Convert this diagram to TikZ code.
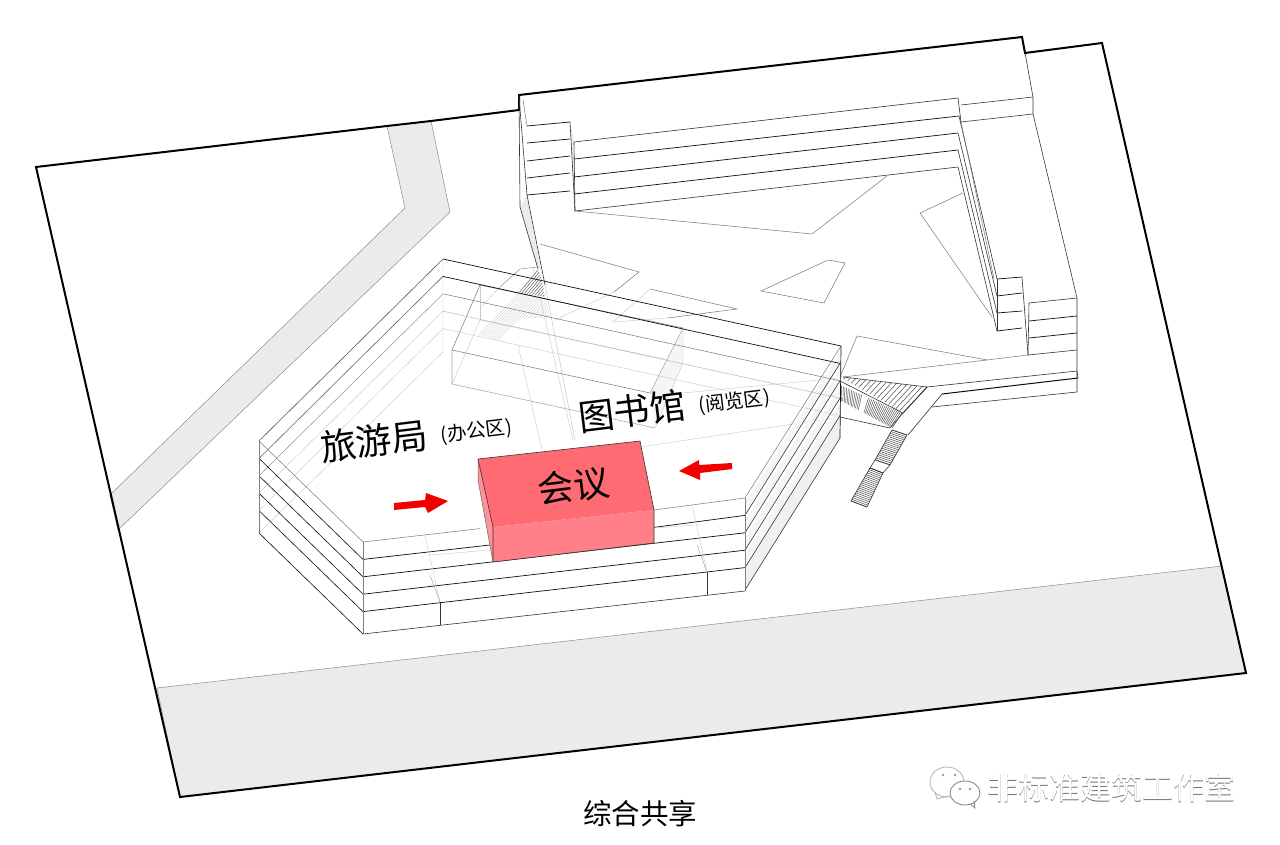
\documentclass[tikz,border=0pt]{standalone}
\usepackage{fontspec}
\setmainfont{Noto Sans CJK SC}
\definecolor{redtop}{HTML}{FF6B72}
\definecolor{redfront}{HTML}{FF8088}
\begin{document}
\begin{tikzpicture}[x=1pt,y=-1pt,line join=miter,
  site/.style={line width=2pt,black},
  ln/.style={line width=0.6pt,black!80},
  dk/.style={line width=0.7pt,black!95},
  gy/.style={line width=0.55pt,black!50},
  lt/.style={line width=0.45pt,black!20},
  hatch/.style={line width=0.5pt,black!70},
  lhatch/.style={line width=0.35pt,black!20},
  ground/.style={fill=black!8,draw=black!45,line width=0.5pt},
  redarrow/.style={fill=red!95!black,draw=none},
  lab/.style={inner sep=0pt,text=black},
]
\useasboundingbox (0,0) rectangle (1280,845);
\fill[white] (0,0) rectangle (1280,845);
% ground
\path[ground] (387,126)--(431,121)--(450,212)--(118,530)--(110,495)--(405,208)--cycle;
\path[ground] (157,688)--(1222,566)--(1246,673)--(180,797)--cycle;
% site outline
\draw[site] (387,126)--(36,167)--(180,797)--(1246,673)--(1102,43)--(1025,53)--(1022,37)--(519,95)--(519,110)--(431,121)--cycle;
% --- rear building
\fill[black!8] (520,207)--(527,195)--(541,270)--(538,269)--cycle;
\draw[ln] (519,97)--(527,195)--(545,285);
\draw[ln] (519,95)--(520,207)--(538,269);
\draw[gy] (523,100)--(527,126);
\foreach \a/\b in {126/122,143/139,161/156,178/173,195/191}{\draw[dk] (527,\a)--(570,\b);}
\fill[black!8] (570,122)--(574,142)--(575,211)--cycle;
\draw[ln] (570,122)--(575,211);
\draw[ln] (574,142)--(575,211);
\draw[ln] (574,142)--(958,98);
\draw[dk] (574,159)--(959,116);
\draw[dk] (574,177)--(958,133);
\draw[dk] (574,194)--(958,150);
\draw[ln] (575,211)--(958,167);
\draw[ln] (961,105)--(1033,97);
\draw[ln] (961,122)--(1033,114);
\draw[ln] (958,98)--(961,122);
\draw[ln] (1025,53)--(1033,97)--(1033,114)--(1077,298)--(1077,392);
% right wing
\draw[ln] (959,116)--(997,279);
\draw[ln] (958,133)--(997,296);
\draw[ln] (958,150)--(997,313);
\draw[ln] (958,167)--(997,331);
\draw[gy] (961,122)--(994,279);
\foreach \a/\b in {279/277,296/293,313/311,331/328}{\draw[dk] (997,\a)--(1022,\b);}
\draw[ln] (997,279)--(997,331);
\draw[ln] (1022,277)--(1028,355);
\draw[ln] (1029,303)--(1028,355);
\draw[ln] (1029,303)--(1077,298);
\draw[dk] (1029,321)--(1077,316);
\draw[dk] (1029,338)--(1077,333);
\draw[ln] (1028,355)--(1077,350);
% ground polygons
\draw[gy] (575,211)--(812,234)--(887,176);
\draw[gy] (963,193)--(920,213)--(992,317);
\draw[gy] (761,291)--(828,260)--(845,263)--(824,303)--cycle;
\draw[gy] (540,244)--(639,272)--(614,292);
\draw[lt] (614,292)--(555,320);
\draw[gy] (650,289)--(737,309)--(668,318);
\draw[lt] (668,318)--(613,322)--(650,289);
\draw[gy] (857,336)--(987,360)--(1028,355);
\draw[gy] (857,336)--(840,377);
\draw[gy] (987,360)--(843,377);
% terrace
\draw[ln] (927,387)--(1077,371);
\draw[dk,line width=1pt] (942,394)--(1078,378);
\draw[ln] (932,407)--(1077,392);
\draw[ln] (1077,371)--(1078,378);
\draw[ln] (942,394)--(908,435);
\draw[ln] (927,387)--(903,413);
% stairs
\foreach \t in {0,0.059,...,1.01}{
  \draw[hatch] ({840+\t*87},{377+\t*10})--({840+\t*63.2},{377+\t*35.7});}
\draw[ln] (843,377)--(927,387)--(903,413);
\foreach \t in {0,0.027,...,0.36}{
  \draw[hatch,line width=0.45pt] ({840+\t*62},{385+\t*28})--({840+\t*52},{400+\t*28});}
\foreach \t in {0.46,0.487,...,1.01}{
  \draw[hatch,line width=0.45pt] ({840+\t*62},{385+\t*28})--({840+\t*52},{400+\t*28});}
\draw[ln] (840,381)--(903,413)--(890,428);
\draw[ln] (840,417)--(890,428);
\foreach \t in {0,0.055,...,1.01}{
  \draw[hatch] ({892-\t*17},{430+\t*30})--({907-\t*17},{435+\t*30});}
\draw[ln] (892,430)--(907,435)--(890,465)--(875,460)--cycle;
\draw[ln] (875,460)--(870,468)--(883,473)--(890,465);
\foreach \t in {0,0.05,...,1.01}{
  \draw[hatch] ({870-\t*19},{468+\t*33})--({883-\t*16},{473+\t*34});}
\draw[ln] (870,468)--(883,473)--(867,507)--(851,501)--cycle;
% --- light construction lines inside the front building
\draw[lt] (533,267)--(573,440);
\draw[black!22,line width=0.5pt] (545,285)--(575,440);
\draw[lt] (518,345)--(542,450);
\draw[lt] (683,393)--(840,378);
\draw[lt] (640,447)--(840,417);
\draw[lt] (825,393)--(825,413)--(840,418);
\draw[lt] (825,393)--(840,397);
\draw[lt] (480,285)--(480,320);
\draw[lt] (452,384)--(480,320);
\draw[lt] (480,320)--(683,363);
% stair seen through the roof
\begin{scope}
\clip (517,292)--(538,268)--(542,280)--(545,297)--cycle;
\foreach \q in {0,3,...,36}{\draw[hatch,line width=0.4pt] ({510+\q},300)--({535+\q},270);}
\end{scope}
\begin{scope}
\clip (494,315)--(517,292)--(545,297)--(550,318)--(520,318)--(498,340)--(478,335)--cycle;
\foreach \q in {0,3,...,78}{\draw[lhatch] ({472+\q},342)--({522+\q},290);}
\end{scope}
\draw[gy,black!40] (500,287)--(520,269)--(538,267);
\draw[lt] (500,287)--(480,308);
% atrium box
\fill[black!4] (650,393)--(683,328)--(683,363)--(655,428)--cycle;
\draw[gy] (480,285)--(683,328);
\draw[gy] (480,285)--(452,350);
\draw[gy] (452,350)--(650,393);
\draw[gy,black!35] (650,393)--(683,328);
\draw[gy,black!35] (452,350)--(452,384)--(655,428);
\draw[lt] (655,428)--(683,363)--(683,328);
% --- front building
\foreach \o in {0,17.4,34.8,52.2}{
  \pgfmathsetmacro\n{\o+17.4}
  \fill[black!4] (745,{498+\o+5})--(841,{346+\o+5})--(840,{346+\n})--(745,{498+\n})--cycle;}
\fill[black!6] (745,{498+69.6})--(840,{346+69.6})--(840,{346+92})--(745,{498+92})--cycle;
% top-left walls
\draw[ln,black!65] (443,259)--(259,441);
\draw[ln,black!60] (443,276.4)--(259,458.4);
\draw[gy,black!40] (443,293.8)--(259,475.8);
\draw[lt] (443,311.2)--(259,493.2);
\draw[lt] (443,328.6)--(259,510.6);
\draw[lt] (443,259)--(443,352)--(259,533);
% rear walls
\draw[dk] (443,259)--(841,346);
\draw[dk] (443,276.4)--(840,363.4);
\draw[gy] (443,293.8)--(840,380.8);
\draw[lt,black!30] (443,311.2)--(840,398.2);
\draw[lt] (443,328.6)--(840,415.6);
% left-front walls
\draw[gy] (259,441)--(363,542);
\foreach \o in {17.4,34.8,52.2,69.6,92}{
  \draw[dk,line width=0.6pt] (259,{441+\o})--(363,{542+\o});}
% front walls
\draw[gy] (363,542)--(480,528.6);
\draw[gy] (654,510)--(745,498);
\draw[dk] (363,559.4)--(490,545);
\draw[dk] (654,527.4)--(745,515.4);
\draw[dk] (363,576.8)--(745,532.8);
\draw[dk] (363,594.2)--(745,550.2);
\draw[dk] (363,611.6)--(745,567.6);
\draw[ln] (363,634)--(745,591);
% right-front walls
\draw[gy] (745,498)--(841,346);
\foreach \o in {17.4,34.8,52.2,69.6,92}{
  \draw[ln] (745,{498+\o})--(840,{346+\o});}
% verticals
\draw[gy] (259,441)--(259,533);
\draw[gy] (363,542)--(363,634);
\draw[gy] (745,498)--(745,591);
\draw[dk] (841,346)--(840,438);
% columns
\draw[lt] (425,535)--(440,602);
\draw[ln] (440,602)--(440,625);
\draw[black!35,line width=0.5pt] (430,575)--(440,602);
\draw[lt] (692,505)--(707,572);
\draw[ln] (707,572)--(707,595);
\draw[black!35,line width=0.5pt] (697,545)--(707,572);
\draw[lt] (430,555)--(490,550);
\draw[lt] (655,528)--(695,525);
% --- meeting volume
\path[fill=redfront,fill opacity=0.85] (478,459)--(478,480)--(493,562)--(493,527)--cycle;
\path[fill=redfront] (493,527)--(654,510)--(654,543)--(493,562)--cycle;
\path[fill=redtop] (478,459)--(640,441)--(654,510)--(493,527)--cycle;
\draw[line width=0.6pt,black!80] (478,459)--(640,441)--(654,510)--(654,543)--(493,562)--(493,527)--cycle;
\draw[line width=0.5pt,black!60] (478,459)--(478,480)--(493,562);
% arrows
\path[redarrow] (394,503)--(425,500)--(426,493)--(448,501)--(428,513)--(425,507)--(394,510)--cycle;
\path[redarrow] (679,471)--(699,460)--(699,465)--(732,463)--(732,469)--(700,473)--(700,480)--cycle;
% labels
\node[lab,font=\fontsize{36}{36}\selectfont,rotate=7] (l1) at (374,441) {旅游局};
\node[lab,font=\fontsize{19.5}{20}\selectfont,rotate=7] (l2) at (476.5,431.5) {(办公区)};
\node[lab,font=\fontsize{36}{36}\selectfont,rotate=7] (l3) at (632,411) {图书馆};
\node[lab,font=\fontsize{19.5}{20}\selectfont,rotate=7] (l4) at (734.5,402) {(阅览区)};
\node[lab,font=\fontsize{36}{36}\selectfont,rotate=7] (l5) at (574,486) {会议};
\node[lab,font=\fontsize{28.5}{29}\selectfont] (l6) at (640,814) {综合共享};
% watermark
\draw[black!30,line width=0.8pt,fill=white] (947,782) ellipse [x radius=17,y radius=15];
\draw[black!30,line width=0.8pt] (935,792)--(937,799)--(948,796);
\draw[black!45,line width=0.9pt,fill=white] (965,793) ellipse [x radius=15,y radius=12];
\draw[black!45,line width=0.8pt] (970,804)--(975,808)--(974,801);
\fill[black!40] (943,775) circle (1.4) (955,775) circle (1.4) (960,789) circle (1.4) (970,789) circle (1.4);
\node[lab,text=black!55,font=\fontsize{31}{31}\selectfont] (w0) at (1111.7,788.7) {非标准建筑工作室};
\node[lab,text=white,font=\fontsize{31}{31}\selectfont] (w1) at (1111,788) {非标准建筑工作室};
\end{tikzpicture}
\end{document}
